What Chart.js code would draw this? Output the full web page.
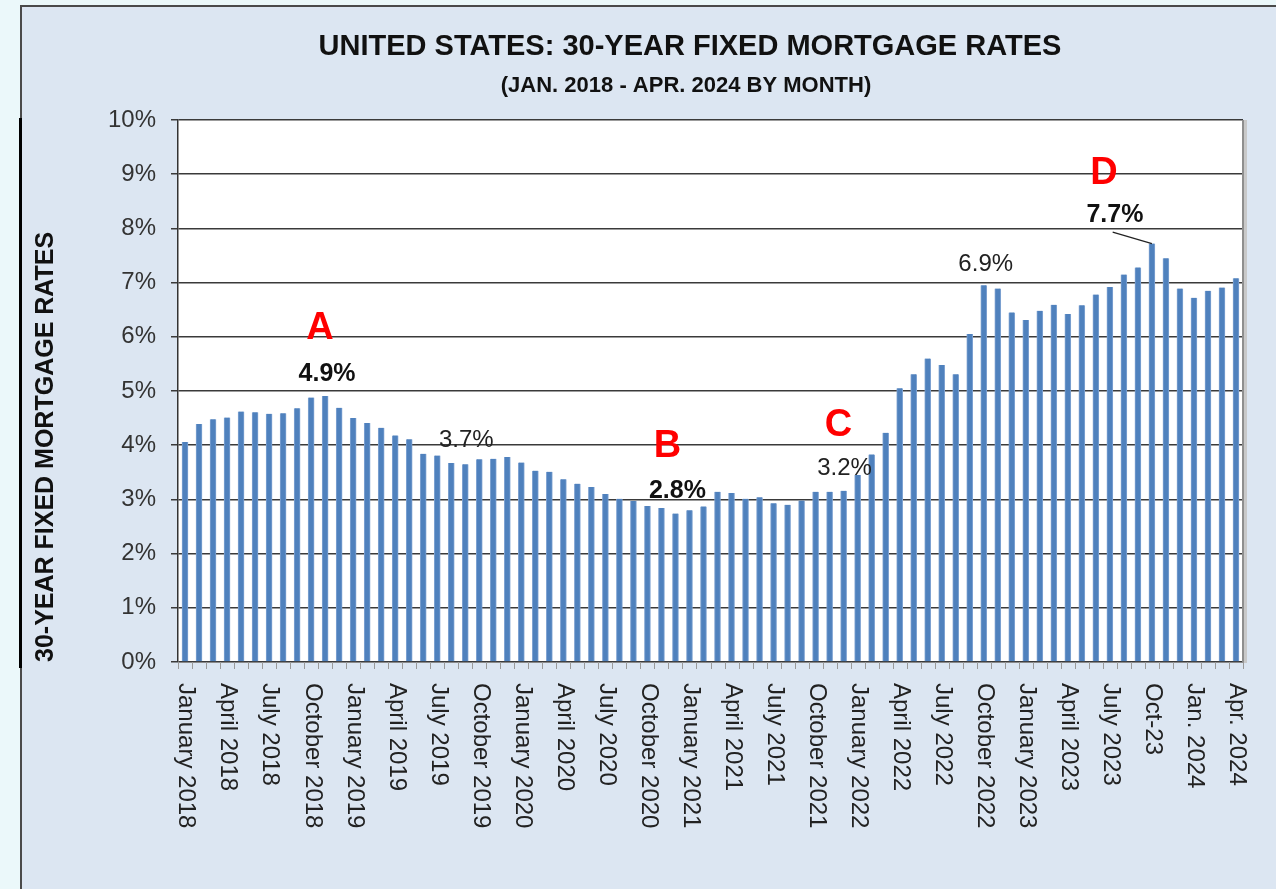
<!DOCTYPE html>
<html>
<head>
<meta charset="utf-8">
<script src="https://cdn.jsdelivr.net/npm/chart.js"></script>
<style>
  body { margin: 0; background: #ebf8fa; overflow: hidden; }
  canvas { display: block; }
</style>
</head>
<body>
<canvas id="chart_canvas" width="1276" height="889"></canvas>
<script>
// 30-year fixed mortgage rates, one bar per month, Jan 2018 - Apr 2024
const months = [
  'Jan 2018', 'Feb 2018', 'Mar 2018', 'Apr 2018', 'May 2018', 'Jun 2018', 'Jul 2018', 'Aug 2018', 'Sep 2018', 'Oct 2018', 'Nov 2018', 'Dec 2018',
  'Jan 2019', 'Feb 2019', 'Mar 2019', 'Apr 2019', 'May 2019', 'Jun 2019', 'Jul 2019', 'Aug 2019', 'Sep 2019', 'Oct 2019', 'Nov 2019', 'Dec 2019',
  'Jan 2020', 'Feb 2020', 'Mar 2020', 'Apr 2020', 'May 2020', 'Jun 2020', 'Jul 2020', 'Aug 2020', 'Sep 2020', 'Oct 2020', 'Nov 2020', 'Dec 2020',
  'Jan 2021', 'Feb 2021', 'Mar 2021', 'Apr 2021', 'May 2021', 'Jun 2021', 'Jul 2021', 'Aug 2021', 'Sep 2021', 'Oct 2021', 'Nov 2021', 'Dec 2021',
  'Jan 2022', 'Feb 2022', 'Mar 2022', 'Apr 2022', 'May 2022', 'Jun 2022', 'Jul 2022', 'Aug 2022', 'Sep 2022', 'Oct 2022', 'Nov 2022', 'Dec 2022',
  'Jan 2023', 'Feb 2023', 'Mar 2023', 'Apr 2023', 'May 2023', 'Jun 2023', 'Jul 2023', 'Aug 2023', 'Sep 2023', 'Oct 2023', 'Nov 2023', 'Dec 2023',
  'Jan 2024', 'Feb 2024', 'Mar 2024', 'Apr 2024'
];

const rates = [
  4.06, 4.39, 4.48, 4.51, 4.62, 4.61, 4.58, 4.59, 4.68, 4.88, 4.91, 4.69,
  4.50, 4.41, 4.32, 4.18, 4.11, 3.84, 3.81, 3.67, 3.65, 3.74, 3.75, 3.78,
  3.68, 3.53, 3.51, 3.37, 3.29, 3.23, 3.10, 3.01, 2.97, 2.88, 2.84, 2.74,
  2.80, 2.87, 3.14, 3.12, 3.01, 3.04, 2.93, 2.90, 2.98, 3.14, 3.14, 3.16,
  3.45, 3.83, 4.23, 5.05, 5.31, 5.60, 5.48, 5.31, 6.05, 6.95, 6.89, 6.45,
  6.31, 6.48, 6.59, 6.42, 6.58, 6.78, 6.92, 7.15, 7.28, 7.72, 7.45, 6.89,
  6.72, 6.85, 6.91, 7.08
];

// shown under every third month
const tickLabels = [
  'January 2018', 'April 2018', 'July 2018', 'October 2018',
  'January 2019', 'April 2019', 'July 2019', 'October 2019',
  'January 2020', 'April 2020', 'July 2020', 'October 2020',
  'January 2021', 'April 2021', 'July 2021', 'October 2021',
  'January 2022', 'April 2022', 'July 2022', 'October 2022',
  'January 2023', 'April 2023', 'July 2023', 'Oct-23',
  'Jan. 2024', 'Apr. 2024'
];

const yTicks = [0, 1, 2, 3, 4, 5, 6, 7, 8, 9, 10];

// call-outs, placed in data units (month index, rate)
const notes = [
  { text: 'A', i: 9.64, v: 6.16, kind: 'letter' },
  { text: '4.9%', i: 10.14, v: 5.31, kind: 'bold' },
  { text: '3.7%', i: 20.07, v: 4.08, kind: 'plain' },
  { text: 'B', i: 34.43, v: 3.97, kind: 'letter' },
  { text: '2.8%', i: 35.14, v: 3.15, kind: 'bold' },
  { text: 'C', i: 46.64, v: 4.37, kind: 'letter' },
  { text: '3.2%', i: 47.07, v: 3.58, kind: 'plain' },
  { text: '6.9%', i: 57.14, v: 7.34, kind: 'plain' },
  { text: 'D', i: 65.57, v: 9.02, kind: 'letter' },
  { text: '7.7%', i: 66.36, v: 8.25, kind: 'bold' }
];
const leader = { from: [66.2, 7.93], toIndex: 69 };

const FONT = "'Liberation Sans', Arial, sans-serif";
const noteFonts = {
  letter: { font: 'bold 38px ' + FONT, color: '#ff0000' },
  bold: { font: 'bold 25px ' + FONT, color: '#111111' },
  plain: { font: '24px ' + FONT, color: '#222222' }
};

const backdrop = {
  id: 'backdrop',
  beforeDraw(chart) {
    const c = chart.ctx, a = chart.chartArea;
    c.save();
    c.fillStyle = '#ebf8fa';
    c.fillRect(0, 0, chart.width, chart.height);
    c.fillStyle = '#dce6f2';
    c.fillRect(20, 6, chart.width, chart.height);
    c.fillStyle = '#4a4a4a';
    c.fillRect(20, 5, chart.width, 2);
    c.fillRect(20, 5, 2, chart.height);
    c.fillStyle = '#000';
    c.fillRect(19, 118, 3, 550);
    c.fillStyle = '#fff';
    c.fillRect(a.left, a.top, a.right - a.left, a.bottom - a.top);
    c.restore();
  },
  afterDraw(chart) {
    const c = chart.ctx, a = chart.chartArea;
    const xs = chart.scales.x, ys = chart.scales.y;
    c.save();
    // right frame of the plot area
    c.fillStyle = '#c9c9c9';
    c.fillRect(a.right + 1, a.top, 3, a.bottom - a.top + 1);
    c.fillStyle = '#8f8f8f';
    c.fillRect(a.right - 1, a.top, 2, a.bottom - a.top + 1);
    // tick marks between months
    c.strokeStyle = '#9a9a9a';
    c.lineWidth = 1;
    const step = (a.right - a.left) / months.length;
    for (let k = 0; k <= months.length; k++) {
      const x = Math.round(a.left + k * step) + 0.5;
      c.beginPath();
      c.moveTo(x, a.bottom);
      c.lineTo(x, a.bottom + 7);
      c.stroke();
    }
    // month labels, turned to read downwards
    c.font = '24px ' + FONT;
    c.fillStyle = '#222';
    c.textAlign = 'left';
    c.textBaseline = 'middle';
    tickLabels.forEach((t, k) => {
      const x = xs.getPixelForValue(k * 3);
      c.save();
      c.translate(x + 1, a.bottom + 21);
      c.rotate(Math.PI / 2);
      c.fillText(t, 0, 0);
      c.restore();
    });
    // titles
    c.textAlign = 'center';
    c.fillStyle = '#111';
    c.font = 'bold 29px ' + FONT;
    c.fillText('UNITED STATES: 30-YEAR FIXED MORTGAGE RATES', 690, 47);
    c.font = 'bold 22px ' + FONT;
    c.fillText('(JAN. 2018 - APR. 2024 BY MONTH)', 686, 86);
    // call-outs
    notes.forEach(n => {
      const st = noteFonts[n.kind];
      c.font = st.font;
      c.fillStyle = st.color;
      c.fillText(n.text, xs.left + (n.i + 0.5) * step, ys.getPixelForValue(n.v));
    });
    c.strokeStyle = '#222';
    c.lineWidth = 1.2;
    c.beginPath();
    c.moveTo(xs.left + (leader.from[0] + 0.5) * step, ys.getPixelForValue(leader.from[1]));
    c.lineTo(xs.getPixelForValue(leader.toIndex), ys.getPixelForValue(rates[leader.toIndex]));
    c.stroke();
    c.restore();
  }
};

let ctx = document.getElementById('chart_canvas');
let rateChart = new Chart(ctx, { // eslint-disable-line no-unused-vars
  type: 'bar',
  data: {
    labels: months,
    datasets: [{
      label: '30-year fixed rate',
      data: rates,
      backgroundColor: '#4f81bd',
      borderColor: '#7fa3d2',
      borderWidth: { left: 1, right: 1, top: 0, bottom: 0 },
      borderSkipped: false,
      barThickness: 6
    }]
  },
  options: {
    responsive: false,
    animation: false,
    devicePixelRatio: 1,
    layout: { padding: { top: 120, right: 33, left: 0, bottom: 0 } },
    plugins: {
      legend: { display: false },
      tooltip: { enabled: false }
    },
    scales: {
      x: {
        type: 'category',
        offset: true,
        grid: { display: false },
        border: { display: true, color: '#8a8a8a', width: 1 },
        ticks: { display: false },
        afterFit(scale) { scale.height = 227; }
      },
      y: {
        min: 0,
        max: 10,
        afterBuildTicks(scale) { scale.ticks = yTicks.map(v => ({ value: v })); },
        ticks: {
          callback: v => v + '%',
          color: '#333',
          padding: 15,
          font: { family: FONT, size: 24 }
        },
        grid: { color: '#3a3a3a', lineWidth: 1.5, tickLength: 7, tickColor: '#3a3a3a' },
        border: { color: '#333', width: 1.5 },
        title: {
          display: true,
          text: '30-YEAR FIXED MORTGAGE RATES',
          align: 'start',
          color: '#111',
          font: { family: FONT, size: 25, weight: 'bold' },
          padding: { top: 31, bottom: 0 }
        },
        afterFit(scale) { scale.width = 178; }
      }
    }
  },
  plugins: [backdrop]
});
</script>
</body>
</html>
